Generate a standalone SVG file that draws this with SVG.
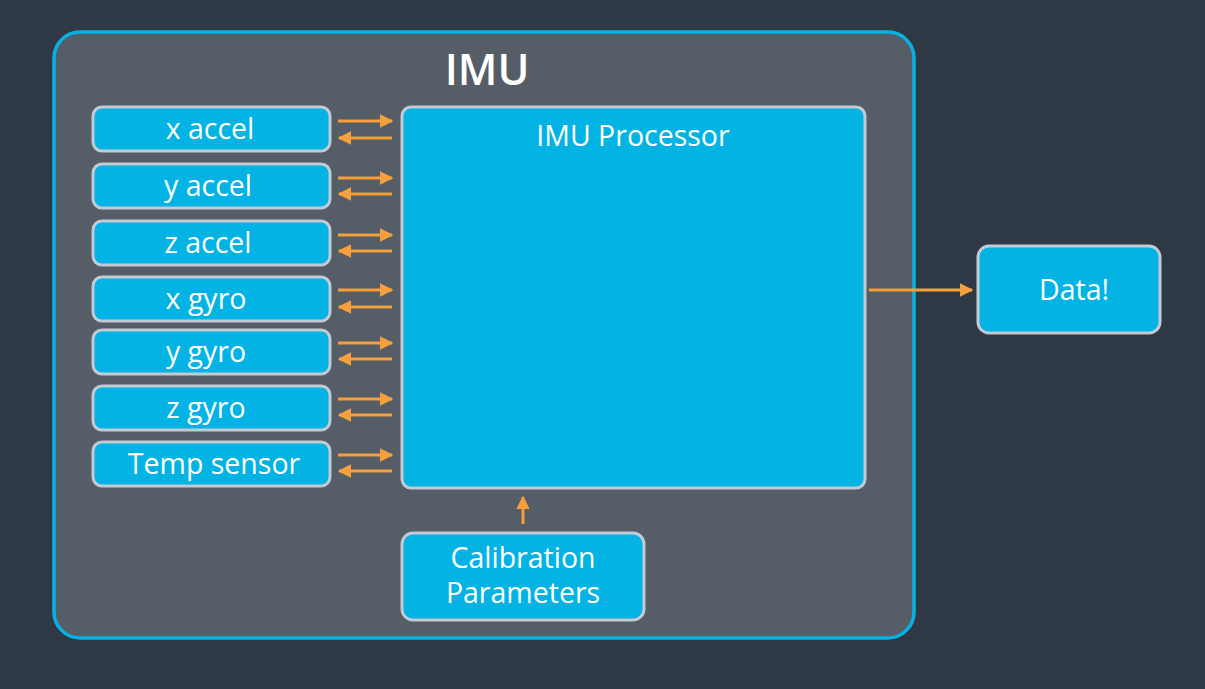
<svg xmlns="http://www.w3.org/2000/svg" width="1205" height="689" viewBox="0 0 1205 689">
<style>
.box{fill:#02b3e4;stroke:#c3cad3;stroke-width:3}
.t{font-family:"Open Sans","Liberation Sans",sans-serif;fill:#ffffff;text-anchor:middle}
.s{font-size:28.5px}
.c{stroke:#f5a03a;stroke-width:3;fill:none}
</style>
<defs>
<marker id="ah" viewBox="0 0 10 10" refX="9" refY="5" markerWidth="4.5" markerHeight="4.5" markerUnits="strokeWidth" orient="auto">
<path d="M0,0 L10,5 L0,10 z" fill="#f5a03a"/>
</marker>
</defs>
<rect width="1205" height="689" fill="#2e3945"/>
<g id="imu">
<rect x="54" y="32" width="860" height="606" rx="26" fill="#555d66" stroke="#06b2e3" stroke-width="3.5"/>
<text class="t" x="487" y="85" font-size="43" font-weight="600">IMU</text>
</g>
<g id="x_accel"><rect class="box" x="93" y="107" width="237" height="44" rx="9"/><text class="t s" x="210" y="139">x accel</text></g>
<g id="y_accel"><rect class="box" x="93" y="164" width="237" height="44" rx="9"/><text class="t s" x="208" y="196">y accel</text></g>
<g id="z_accel"><rect class="box" x="93" y="221" width="237" height="44" rx="9"/><text class="t s" x="208" y="253">z accel</text></g>
<g id="x_gyro"><rect class="box" x="93" y="277" width="237" height="44" rx="9"/><text class="t s" x="206" y="309">x gyro</text></g>
<g id="y_gyro"><rect class="box" x="93" y="330" width="237" height="44" rx="9"/><text class="t s" x="206" y="362">y gyro</text></g>
<g id="z_gyro"><rect class="box" x="93" y="386" width="237" height="44" rx="9"/><text class="t s" x="206" y="418">z gyro</text></g>
<g id="temp"><rect class="box" x="93" y="442" width="237" height="44" rx="9"/><text class="t s" x="214" y="474">Temp sensor</text></g>
<g id="processor"><rect class="box" x="402" y="107" width="463" height="381" rx="9"/><text class="t s" x="633" y="146">IMU Processor</text></g>
<g id="data"><rect class="box" x="978" y="246" width="182" height="87" rx="11"/><text class="t s" x="1074" y="300">Data!</text></g>
<g id="calib"><rect class="box" x="402" y="533" width="242" height="87" rx="11"/><text class="t s" x="523" y="568">Calibration</text><text class="t s" x="523" y="603">Parameters</text></g>
<g id="connectors">
<line class="c" x1="338" y1="121" x2="392" y2="121" marker-end="url(#ah)"/>
<line class="c" x1="392" y1="138" x2="339" y2="138" marker-end="url(#ah)"/>
<line class="c" x1="338" y1="178" x2="392" y2="178" marker-end="url(#ah)"/>
<line class="c" x1="392" y1="194" x2="339" y2="194" marker-end="url(#ah)"/>
<line class="c" x1="338" y1="235" x2="392" y2="235" marker-end="url(#ah)"/>
<line class="c" x1="392" y1="251" x2="339" y2="251" marker-end="url(#ah)"/>
<line class="c" x1="338" y1="290" x2="392" y2="290" marker-end="url(#ah)"/>
<line class="c" x1="392" y1="307" x2="339" y2="307" marker-end="url(#ah)"/>
<line class="c" x1="338" y1="343" x2="392" y2="343" marker-end="url(#ah)"/>
<line class="c" x1="392" y1="359" x2="339" y2="359" marker-end="url(#ah)"/>
<line class="c" x1="338" y1="399" x2="392" y2="399" marker-end="url(#ah)"/>
<line class="c" x1="392" y1="415" x2="339" y2="415" marker-end="url(#ah)"/>
<line class="c" x1="338" y1="455" x2="392" y2="455" marker-end="url(#ah)"/>
<line class="c" x1="392" y1="471" x2="339" y2="471" marker-end="url(#ah)"/>
<line class="c" x1="869" y1="290" x2="972" y2="290" marker-end="url(#ah)"/>
<line class="c" x1="523" y1="524" x2="523" y2="497" marker-end="url(#ah)"/>
</g>
</svg>
